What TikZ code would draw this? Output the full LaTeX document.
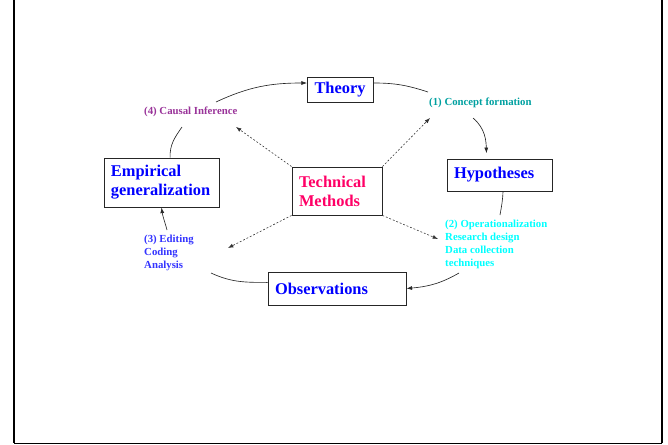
\documentclass[tikz,border=0pt]{standalone}
\usepackage{fontspec}
\setmainfont{Liberation Serif}
\usepackage{tikz}
\usetikzlibrary{arrows.meta,positioning}
\definecolor{boxblue}{RGB}{0,0,255}
\definecolor{techpink}{RGB}{255,0,102}
\definecolor{causalpurple}{RGB}{153,51,153}
\definecolor{conceptteal}{RGB}{0,160,160}
\definecolor{opercyan}{RGB}{0,255,255}
\definecolor{editblue}{RGB}{51,51,255}

\begin{document}
\begin{tikzpicture}[x=0.03cm,y=-0.03cm,
    stepnode/.style={draw=black!85, line width=0.75pt, align=left, anchor=center,
        inner xsep=0.21cm, inner ysep=0pt, text=boxblue,
        font=\fontsize{14}{16.2}\selectfont\bfseries},
    lbl/.style={inner sep=0pt, align=left, font=\fontsize{9.2}{11.1}\selectfont\bfseries},
    conn/.style={line width=0.55pt, black!85},
    tip/.style={-{Latex[length=1.7mm,width=1.2mm]}},
    dots/.style={line width=0.5pt, black!80, dash pattern=on 1.6pt off 1.6pt,
        -{Latex[length=1.6mm,width=1.2mm]}}]
    \useasboundingbox (0,0) rectangle (668,444);
    %Frame
    \draw[line width=1.6pt] (14,0) -- (14,443);
    \draw[line width=1.6pt] (662,0) -- (662,443);
    \draw[line width=0.8pt] (14,443) -- (662,443);
    %Boxes
    \node[stepnode, minimum width=1.98cm, minimum height=0.75cm, text width=1.56cm] (theory) at (340.5,89.5) {Theory};
    \node[stepnode, minimum width=3.15cm, minimum height=0.96cm, text width=2.73cm] (hypo) at (499.5,175) {Hypotheses};
    \node[stepnode, minimum width=4.14cm, minimum height=0.99cm, text width=3.72cm] (observ) at (337,288.5) {Observations};
    \node[stepnode, minimum width=3.45cm, minimum height=1.47cm, text width=3.03cm] (empir) at (161.5,182.5) {Empirical\\generalization};
    \node[stepnode, minimum width=2.7cm, minimum height=1.44cm, text width=2.28cm, text=techpink] (tech) at (337,191) {Technical\\Methods};
    %Labels
    \node[lbl, anchor=west, text=causalpurple] (causal) at (144,112) {(4) Causal Inference};
    \node[lbl, anchor=west, text=conceptteal] (concept) at (429,103) {(1) Concept formation};
    \node[lbl, anchor=north west, text=opercyan] (oper) at (445,220) {(2) Operationalization\\Research design\\Data collection\\techniques};
    \node[lbl, anchor=north west, text=editblue] (edit) at (144,235) {(3) Editing\\Coding\\Analysis};
    %Ends of the cycle arcs
    \coordinate (c4a) at (182,127);
    \coordinate (c4b) at (216,102);
    \coordinate (c1a) at (428,92);
    \coordinate (c1b) at (473,118);
    \coordinate (c2a) at (500,215);
    \coordinate (c2b) at (459,273);
    \coordinate (c3b) at (211,273);
    \coordinate (c3a) at (167,230);
    %Cycle
    \draw[conn] (empir.71) to[out=92,in=235] (c4a);
    \draw[conn,tip] (c4b) to[out=25,in=180] (theory.169);
    \draw[conn] (theory.11) to[out=0,in=162] (c1a);
    \draw[conn,tip,shorten >=1.6mm] (c1b) to[out=-40,in=92] (hypo.128);
    \draw[conn] (hypo.-78) to[out=-92,in=80] (c2a);
    \draw[conn,tip] (c2b) to[out=-150,in=5] (observ.east);
    \draw[conn] (c3b) to[out=-25,in=180] (observ.175);
    \draw[conn,tip] (c3a) to[out=105,in=-82] (empir.south);
    %Technical methods
    \draw[dots] (tech.north west) -- (236,127);
    \draw[dots] (tech.north east) -- (430,118);
    \draw[dots] (tech.south west) -- (228,248);
    \draw[dots] (tech.south east) -- (438,239);
\end{tikzpicture}
\end{document}
